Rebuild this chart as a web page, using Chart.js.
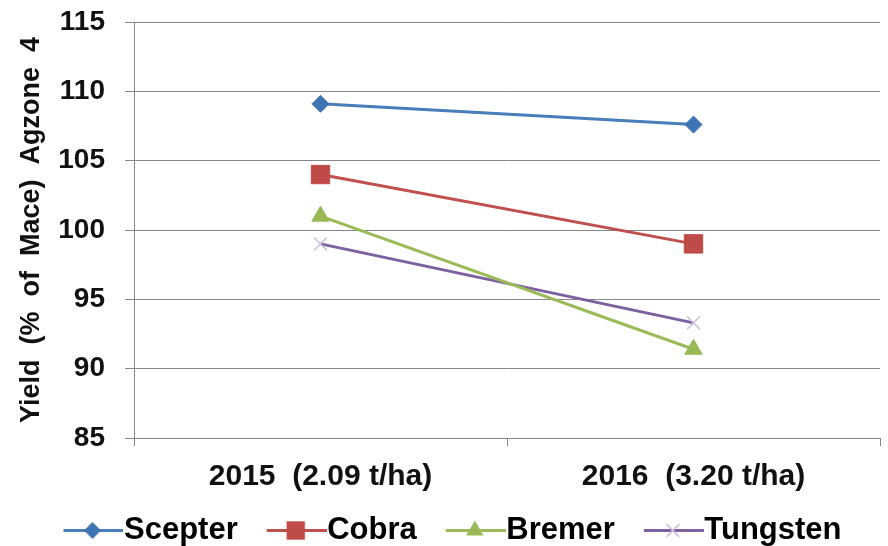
<!DOCTYPE html>
<html>
<head>
<meta charset="utf-8">
<script src="https://cdn.jsdelivr.net/npm/chart.js@4.4.0/dist/chart.umd.min.js"></script>
<style>
  html, body { margin: 0; padding: 0; background: #fff; overflow: hidden; }
  #wrap { width: 888px; height: 556px; }
</style>
</head>
<body>
<div id="wrap"><canvas id="myChart" width="888" height="556"></canvas></div>
<script>
// data
const years = ['2015  (2.09 t/ha)', '2016  (3.20 t/ha)'];
const scepter = [109.1, 107.6];
const cobra = [104.0, 99.0];
const bremer = [101.0, 91.4];
const tungsten = [99.0, 93.3];
const yTitle = 'Yield  (%  of  Mace)  Agzone  4';

const FONT = '"Liberation Sans", Arial, sans-serif';

// marker shape for the legend symbols (line + marker)
function drawMark(ctx, style, x, y, r, fill, stroke) {
  ctx.fillStyle = fill;
  ctx.strokeStyle = stroke;
  ctx.beginPath();
  if (style == 'rectRot') {
    ctx.moveTo(x, y - r); ctx.lineTo(x + r, y); ctx.lineTo(x, y + r); ctx.lineTo(x - r, y);
    ctx.closePath(); ctx.fill();
  } else if (style == 'rect') {
    let s = r * Math.SQRT1_2;
    ctx.rect(x - s, y - s, 2 * s, 2 * s); ctx.fill();
  } else if (style == 'triangle') {
    ctx.moveTo(x, y - r); ctx.lineTo(x + r * 0.87, y + r * 0.5); ctx.lineTo(x - r * 0.87, y + r * 0.5);
    ctx.closePath(); ctx.fill();
  } else {
    let s = r * Math.SQRT1_2;
    ctx.lineWidth = 1.5;
    ctx.moveTo(x - s, y - s); ctx.lineTo(x + s, y + s);
    ctx.moveTo(x + s, y - s); ctx.lineTo(x - s, y + s);
    ctx.stroke();
  }
}

function legendSymbol(line, style, r, fill, stroke) {
  const c = document.createElement('canvas');
  c.width = 100; c.height = 31;
  const ctx = c.getContext('2d');
  ctx.strokeStyle = line;
  ctx.lineWidth = 3;
  ctx.beginPath();
  ctx.moveTo(40, 15.5); ctx.lineTo(100, 15.5);
  ctx.stroke();
  drawMark(ctx, style, 69, 15.5, r, fill, stroke);
  return c;
}

const series = [
  { label: 'Scepter', data: scepter, line: '#4A7EBB', mark: '#3F74B3', style: 'rectRot', r: 8.5 },
  { label: 'Cobra', data: cobra, line: '#C0504D', mark: '#BE4B48', style: 'rect', r: 13 },
  { label: 'Bremer', data: bremer, line: '#9BBB59', mark: '#98B954', style: 'triangle', r: 10 },
  { label: 'Tungsten', data: tungsten, line: '#7D60A0', mark: '#C9BEDC', style: 'crossRot', r: 9 }
];

const datasets = series.map(s => ({
  label: s.label,
  data: s.data,
  borderColor: s.line,
  backgroundColor: s.mark,
  borderWidth: 3,
  pointStyle: s.style,
  pointRadius: s.r,
  pointHoverRadius: s.r,
  pointBackgroundColor: s.mark,
  pointBorderColor: s.mark,
  pointBorderWidth: s.style == 'crossRot' ? 1.5 : 1,
  fill: false,
  tension: 0
}));

const symbols = series.map(s => legendSymbol(s.line, s.style, s.r, s.mark, s.mark));

new Chart('myChart', {
  type: 'line',
  data: { labels: years, datasets: datasets },
  options: {
    responsive: false,
    animation: false,
    layout: { autoPadding: false, padding: { top: 22, right: 8, left: 0, bottom: 0 } },
    scales: {
      x: {
        offset: true,
        grid: { offset: true, drawOnChartArea: false, drawTicks: true, tickLength: 8, color: '#868686' },
        border: { color: '#868686' },
        ticks: { color: '#111', padding: 13, font: { family: FONT, size: 30, weight: 'bold' } },
        afterFit: function(scale) {
          scale.height = 73;
          scale.paddingLeft = 0;
          scale.paddingRight = 0;
        }
      },
      y: {
        min: 85,
        max: 115,
        ticks: { stepSize: 5, color: '#111', padding: 20, font: { family: FONT, size: 28, weight: 'bold' } },
        grid: { color: '#868686', tickLength: 9 },
        border: { color: '#868686' },
        title: {
          display: true,
          text: yTitle,
          color: '#111',
          padding: { top: 15, bottom: 0 },
          font: { family: FONT, size: 27, weight: 'bold' }
        },
        afterFit: function(scale) {
          scale.width = 134;
          scale.paddingTop = 0;
          scale.paddingBottom = 0;
        }
      }
    },
    plugins: {
      tooltip: { enabled: false },
      legend: {
        display: true,
        position: 'bottom',
        labels: {
          usePointStyle: true,
          pointStyleWidth: 70,
          padding: 4,
          color: '#111',
          font: { family: FONT, size: 31, weight: 'bold' },
          generateLabels: function(chart) {
            return chart.data.datasets.map((ds, i) => ({
              text: ds.label,
              pointStyle: symbols[i],
              fillStyle: ds.borderColor,
              strokeStyle: ds.borderColor,
              lineWidth: 0,
              hidden: false,
              datasetIndex: i
            }));
          }
        }
      }
    }
  }
});
</script>
</body>
</html>
